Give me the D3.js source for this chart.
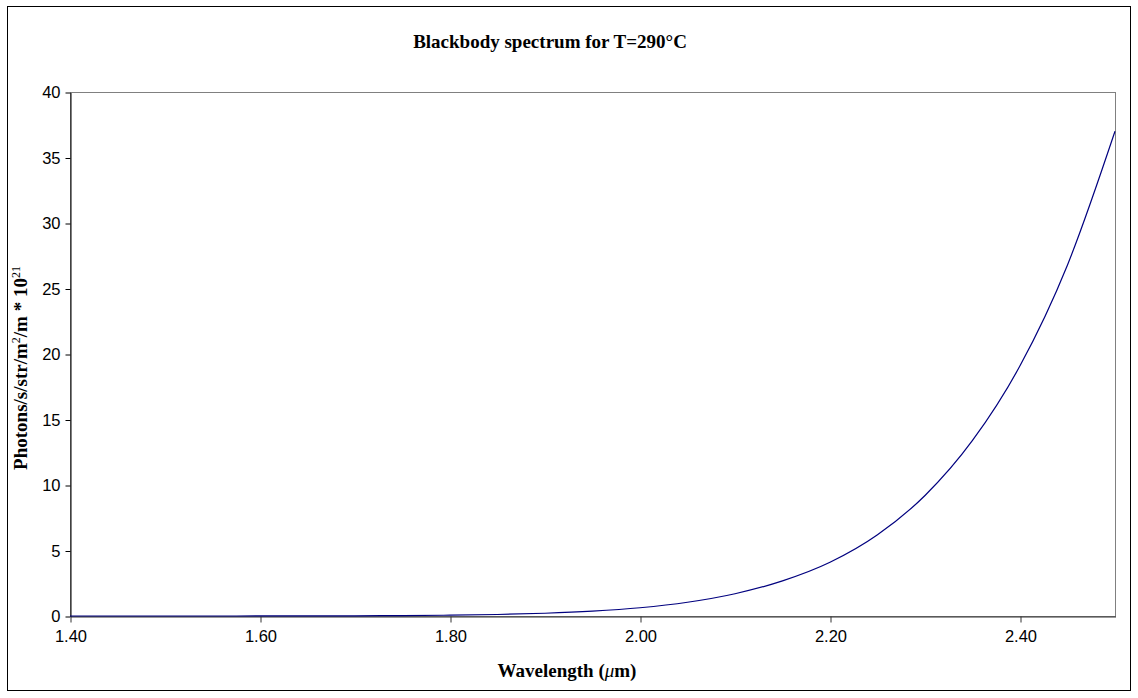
<!DOCTYPE html>
<html>
<head>
  <meta charset="utf-8">
  <script src="https://d3js.org/d3.v7.min.js"></script>
  <style>
    body { margin: 0; background: #fff; }
    .tick text { font-family: "Liberation Sans", Arial, sans-serif; font-size: 16.5px; fill: #000; }
    .ttl { font-family: "Liberation Serif", "Times New Roman", serif; font-weight: bold; fill: #000; }
  </style>
</head>
<body>
<script>
  // wavelength in micrometres
  var wavelengths = [1.40, 1.45, 1.50, 1.55, 1.60, 1.65, 1.70, 1.75, 1.80, 1.85, 1.90, 1.95,
                     2.00, 2.05, 2.10, 2.15, 2.20, 2.25, 2.30, 2.35, 2.40, 2.45, 2.50];
  // photons/s/str/m^2/m * 10^21
  var photons = [0.0001, 0.0002, 0.0005, 0.001, 0.003, 0.007, 0.015, 0.031, 0.061, 0.116, 0.21, 0.37,
                 0.63, 1.05, 1.70, 2.68, 4.1, 6.2, 9.2, 13.4, 19.1, 26.8, 37.0];
  var yTicks = [0, 5, 10, 15, 20, 25, 30, 35, 40];
  var xTicks = [1.4, 1.6, 1.8, 2.0, 2.2, 2.4];

  var W = 1138, H = 698;
  var pLeft = 70, pRight = 1115, pTop = 92, pBottom = 616;

  var svg = d3.select("body").append("svg")
      .attr("width", W).attr("height", H);

  // chart area border
  svg.append("rect")
      .attr("x", 7.5).attr("y", 6.5)
      .attr("width", 1123).attr("height", 684)
      .attr("fill", "#fff").attr("stroke", "#000").attr("stroke-width", 1);

  var x = d3.scaleLinear().domain([1.4, 2.5]).range([pLeft, pRight]);
  var y = d3.scaleLinear().domain([0, 40]).range([pBottom, pTop]);

  // plot area border (grey top/right)
  svg.append("rect")
      .attr("x", pLeft + 0.5).attr("y", pTop + 0.5)
      .attr("width", pRight - pLeft).attr("height", pBottom - pTop)
      .attr("fill", "none").attr("stroke", "#808080").attr("stroke-width", 1);

  var yAxis = svg.append("g")
      .attr("transform", "translate(" + (pLeft + 0.5) + ",0.5)")
      .call(d3.axisLeft(y).tickValues(yTicks).tickSize(5).tickSizeOuter(0).tickPadding(5).tickFormat(d3.format("d")));
  yAxis.select(".domain").attr("stroke", "#000");
  yAxis.selectAll(".tick line").attr("stroke", "#000");

  var xAxis = svg.append("g")
      .attr("transform", "translate(0.5," + (pBottom + 0.5) + ")")
      .call(d3.axisBottom(x).tickValues(xTicks).tickSize(6).tickSizeOuter(0).tickPadding(8).tickFormat(d3.format(".2f")));
  xAxis.select(".domain").attr("stroke", "#333");
  xAxis.selectAll(".tick line").attr("stroke", "#333");

  var pts = wavelengths.map(function(w, i) { return [w, photons[i]]; });
  var line = d3.line()
      .x(function(d) { return x(d[0]); })
      .y(function(d) { return y(d[1]); })
      .curve(d3.curveMonotoneX);

  svg.append("path")
      .datum(pts)
      .attr("d", line)
      .attr("fill", "none")
      .attr("stroke", "#00007f")
      .attr("stroke-width", 1.2);

  // title
  svg.append("text")
      .attr("class", "ttl")
      .attr("x", 550).attr("y", 48)
      .attr("text-anchor", "middle")
      .style("font-size", "19px")
      .text("Blackbody spectrum for T=290°C");

  // x label
  var xl = svg.append("text")
      .attr("class", "ttl")
      .attr("x", 567).attr("y", 677)
      .attr("text-anchor", "middle")
      .style("font-size", "19px");
  xl.append("tspan").text("Wavelength (");
  xl.append("tspan").style("font-style", "italic").style("font-weight", "normal").text("μ");
  xl.append("tspan").text("m)");

  // y label
  var yl = svg.append("text")
      .attr("class", "ttl")
      .attr("transform", "translate(27,368) rotate(-90)")
      .attr("text-anchor", "middle")
      .style("font-size", "19px");
  yl.append("tspan").text("Photons/s/str/m");
  yl.append("tspan").attr("dy", -7).style("font-size", "12px").style("font-weight", "normal").text("2");
  yl.append("tspan").attr("dy", 7).text("/m * 10");
  yl.append("tspan").attr("dy", -7).style("font-size", "12px").style("font-weight", "normal").text("21");
</script>
</body>
</html>
